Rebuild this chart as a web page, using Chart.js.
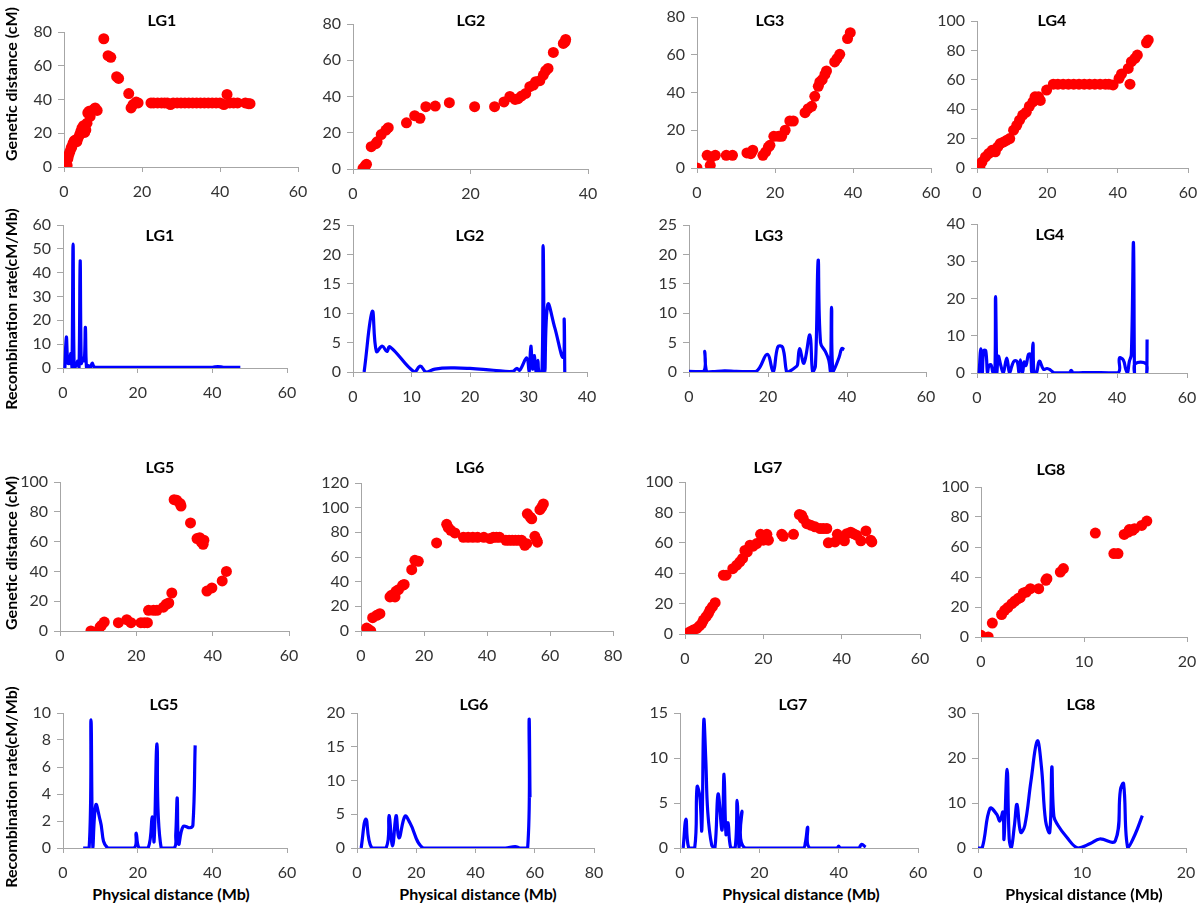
<!DOCTYPE html>
<html>
<head>
<meta charset="utf-8">
<script src="https://cdn.jsdelivr.net/npm/chart.js@4.4.1/dist/chart.umd.min.js"></script>
<style>
    body { margin: 0; background: #fff; }
    #fig { position: relative; width: 1200px; height: 908px; overflow: hidden; font-family: Lato, "Open Sans", sans-serif; }
    #fig canvas { position: absolute; }
    .lg { position: absolute; font-weight: bold; font-size: 16px; color: #000; transform: translate(-50%, -50%); white-space: nowrap; }
    .ytitle { position: absolute; font-weight: bold; font-size: 16px; color: #000; transform: translate(-50%, -50%) rotate(-90deg); white-space: nowrap; }
</style>
</head>
<body>
<div id="fig"></div>
<script>
// Genetic map position (cM) against physical position (Mb)
const lg1MapX = [0.3,0.5,0.6,0.8,1.0,1.2,1.5,1.8,2.0,2.3,2.6,3.0,3.3,3.6,4.0,4.3,4.6,5.0,5.3,5.6,5.9,6.1,6.4,6.7,7.0,7.5,8.0,8.5,10.2,11.3,12.0,13.5,14.0,16.6,17.2,17.7,18.5,19.0,22.3,23.0,24.0,25.0,25.8,26.5,27.3,28.0,29.0,30.0,31.0,32.0,33.0,34.0,35.0,36.0,37.0,38.0,39.0,40.0,41.0,41.8,42.5,43.5,44.5,46.5,47.3,47.7];
const lg1MapY = [0.5,3,6,1,5,7,9,11,12,14,15.5,16,15,17,19,21,23,24.5,20.5,22,26,32,33,30,33,34,35,33.5,76,66,65,53.5,52.5,43.5,35,37,38.5,38,38,38,38,38,38,38,37,38,38,38,38,38,38,38,38,38,38,38,38,38,37,43,38,38,38,38,37.5,37.5];
const lg2MapX = [1.7,2.1,2.3,3.1,3.9,4.1,4.8,5.6,6.0,9.1,10.5,11.4,12.4,14.0,16.4,20.7,24.1,25.7,26.7,27.6,28.1,28.7,29.4,30.1,30.7,31.1,31.8,32.4,32.8,33.2,34.1,35.8,36.1,36.2];
const lg2MapY = [0.4,1.8,2.6,12.3,14,15,19,21.5,22.8,25.5,29.4,28,34.4,34.7,36.6,34.4,34.4,37,40,38.4,38.8,40.3,41.7,45.4,46.3,48.2,48.7,51.8,54.2,55.5,64.3,69.3,70.2,71.5];
const lg3MapX = [0,2.6,3.4,3.7,4.7,7.5,9.1,12.8,13.8,14.3,16.9,17.6,18.3,18.7,19.7,20.9,21.7,22.6,23.8,24.7,27.7,28.5,29.4,30.2,31.1,31.5,32.1,32.8,33.2,35.3,35.9,36.6,38.6,39.3];
const lg3MapY = [0,6.7,1.4,5.8,6.7,6.7,6.7,8,7.6,9.4,6.7,8.5,11.1,12,16.8,16.8,16.8,20,24.9,24.9,29.3,31.4,32.7,38,43.3,45.6,46.8,49.6,51.4,56.2,58,60.2,68.6,71.7];
const lg4MapX = [0.8,1.4,2.4,3.3,4.3,5.2,5.9,6.6,7.6,8.5,9.3,10.4,11.3,12.1,13,14,14.9,15.9,16.5,17.5,18,19.8,21.7,23,24.5,26,27.5,29,30.5,32,33.5,35,36.5,37.5,38.7,40.4,41.1,43.5,43,43.9,44.9,45.6,48.2,48.7];
const lg4MapY = [0.7,4,7.5,9.8,12,11,14.3,16.6,17.7,18.9,20,25.7,29,32.5,36,38,42,45,48.4,48.4,46,53,57,57,57,57,57,57,57,57,57,57,57,57,56.5,61,64,57,67.7,72.3,74.5,76.8,85.2,87];
const lg5MapX = [8.1,10.1,10.5,10.9,11.6,15.3,17.5,18.6,21.2,22.1,22.9,23.2,24.5,25.4,27.1,27.8,28.5,29.3,29.9,30.6,31.5,31.7,34.2,35.9,36.6,37,37.5,37.7,38.5,39.8,42.5,43.6];
const lg5MapY = [0,0,2.7,3.8,6,5.6,7.6,5.6,5.6,5.6,5.6,13.9,13.9,13.9,16,17.9,18.8,25.5,88.1,87.7,85.5,83.9,72.5,62,62.6,59.7,58.2,60.9,26.8,28.9,33.6,40];
const lg6MapX = [1.8,2.5,3.1,3.7,5,6,9.2,9.7,10.8,11.1,11.9,13.2,13.7,16.1,17.1,18.2,24,27.2,27.7,28.5,29.8,32.5,34,35.5,37,39,41,42,43,44,46,47,48,49,50,51,52,52.6,52.8,53.7,54.2,55.2,55.8,56,56.8,57.4,57.9];
const lg6MapY = [2.4,1.1,0,10.8,12.7,14,27.6,29,27.6,32.2,33.5,37,37.8,49.7,57.3,56.5,71.4,86.5,83.8,81.6,79.5,76,76,76,76,76,75,76,76,76,73.5,73.5,73.5,73.5,73.5,73.5,69.5,70.8,95,92.4,91,76.8,73.5,72,98.4,100.5,103];
const lg7MapX = [0.6,1.3,2.1,3,3.7,4.3,4.7,5.4,6,6.4,7,7.7,9.8,10.5,12.2,13.2,14,14.7,15.3,15.9,16.6,17.4,18.3,19.3,20,20.9,21.3,24.7,25.1,27.7,29.2,29.8,30.2,31.1,32.1,33.2,34.5,35.3,36.2,36.6,38.3,38.9,39.6,40.7,41.3,42.3,43,43.8,44.9,46.2,47.4,47.7];
const lg7MapY = [0.4,1.5,2.6,3.7,5.3,7,9.2,11.4,13.6,15.8,18,20.6,38.7,38.7,43,45.3,47.5,49.7,55,54,58.4,57.8,59.5,65.6,61.7,65.6,61.7,65.6,64.3,65.6,78.6,78.1,75.9,72.6,71.6,70.5,69.4,69.4,69.4,60,60.6,65.6,63.5,61.3,66,67,66,65,61.3,67.8,61.7,60.6];
const lg8MapX = [0,0.7,1.1,2,2.3,2.6,3,3.3,3.6,3.8,4.1,4.4,4.8,5.6,6.3,6.4,7.7,8,11.1,12.9,13.3,13.9,14.3,14.4,14.7,14.9,15.6,16.1];
const lg8MapY = [1.1,0,9.3,15,17.8,19.6,22.2,24,25.6,26.2,29.3,30,32.2,32.2,37.8,38.9,43.3,45.6,69.3,55.6,55.6,68.4,70,71.6,71.1,72.2,74.4,77.3];

// Recombination rate (cM/Mb) along physical position (Mb)
const lg1RateX = [0.5,0.9,1.3,1.7,2.1,2.4,2.7,3.0,3.5,4.0,4.3,4.6,4.9,5.3,5.7,6.0,6.3,6.8,7.3,7.8,8.3,9,10,15,20,25,30,35,40,41.5,43,47.5];
const lg1RateY = [0,13,2,2,6,0,52,0,1,3,0,45,2,4,3,17,0,1,0,2,0.5,0.3,0.3,0.3,0.3,0.3,0.3,0.3,0.3,0.6,0.3,0.3];
const lg2RateX = [1.9,3.3,4.0,5.0,5.8,6.3,10.5,11.5,12.5,14,17,20,24,27.3,28,28.5,29.7,30.1,30.4,30.7,31.0,31.3,31.6,31.8,32.3,32.5,32.8,33.3,34.5,35.9,36.1,36.2];
const lg2RateY = [0,10.3,3.5,4.4,3.5,4.3,0,1,0,0.5,0.7,0.6,0.3,0.1,0.6,0.3,2.4,0,4.4,0.5,2.8,0,2,0,0,21.5,0,11.5,7.5,2.5,9,0];
const lg3RateX = [0,3.7,4.0,4.5,6,9,12,17,19.8,21.3,22.5,23.7,24.7,25.2,27.3,27.5,28.0,29.1,30.6,31.3,32.0,32.7,33.3,34.5,35.4,35.8,36.1,36.5,38.0,38.7,39.3];
const lg3RateY = [0.1,0.1,3.5,0,0.05,0.2,0.1,0.1,3,0,4.3,4.2,0,0,1,1.3,4,1.5,6.3,0,1,19,5,3.5,2,0,11,0,2.5,4,3.8];
const lg4RateX = [0.6,1.1,1.5,1.9,2.5,3.0,3.4,4.0,4.6,5.1,5.3,5.7,6.1,6.8,7.5,8.5,9.3,10,10.7,11.5,12,12.4,13,13.5,14,14.7,15.3,15.6,16,16.3,17,17.8,19,20,21,22,26.4,26.9,27.5,32,40.3,40.7,41.8,42.5,43,43.5,44.1,44.7,45,45.2,48.3,48.5,48.6];
const lg4RateY = [0,6.5,0,6,6,0,2,2.2,0,0,20.5,0,4.5,2,0,4,0,2,3.3,3,0,3.5,0,3,2,5,5,0,8,0,0,3.2,1,1.2,0.8,0.1,0.1,0.7,0.1,0.1,0.1,4,3.5,1,0,3,5,35,0,2.5,2.5,0,9];
const lg5RateX = [5.4,7.0,7.5,8.0,8.8,10.0,12.0,19.0,19.6,20.4,22.8,23.9,24.4,25.2,26.3,29.8,30.2,30.6,31.0,32.2,34.0,34.8,35.4];
const lg5RateY = [0,0,9.5,0,3.2,2,0,0,1.1,0,0,2.3,0.5,7.7,0,0,1,3.7,0.3,1.6,1.5,1.7,7.6];
const lg6RateX = [1.4,3.0,5.0,9.8,10.8,12.0,13.2,14.2,16.2,17.9,22.3,30,40,50,53.4,55,57.6,58.1,58.4];
const lg6RateY = [0,4.3,0,0,4.8,0.3,4.8,1.5,4.7,3.7,0,0,0,0,0.2,0,0,19,7.5];
const lg7RateX = [0.8,1.5,2.2,3.7,4.3,5.0,5.5,6.0,6.5,7.0,8.0,8.8,9.6,10.6,11.1,11.6,12.1,12.8,13.9,14.4,14.9,15.6,16.4,31.0,31.6,32.2,32.7,39.6,40.0,40.4,45.0,45.8,46.8];
const lg7RateY = [0,3.2,0,0,6.8,5.7,2,14.2,9.8,4,0.3,0,6,2,8.2,1.5,2.8,0,0,5.3,0,4.1,0,0,0.6,2.3,0,0,0.2,0,0,0.4,0.1];
const lg8RateX = [0,0.4,1.15,1.8,2.1,2.4,2.5,2.8,3.0,3.2,3.5,3.75,4.1,4.5,5.1,5.7,6.1,6.5,6.9,7.1,7.3,7.7,8.5,9.6,10.8,11.7,13.2,13.7,14.0,14.4,15.1,15.8];
const lg8RateY = [0,0,8.8,7.5,6,8,2,17.5,2,0,5,9.7,3.5,5,15,23.8,18,6,3.5,18,7,5,2.5,0,1,2,1.6,13,14.3,0,3,7.2];

// axis ranges per panel
const mapXMax = [60, 40, 60, 60, 60, 80, 60, 20];
const mapYMax = [80, 80, 80, 100, 100, 120, 100, 100];
const rateXMax = [60, 40, 60, 60, 60, 80, 60, 20];
const rateYMax = [60, 25, 25, 40, 10, 20, 15, 30];
const rateYStep = [10, 5, 5, 10, 2, 5, 5, 10];

const fig = document.getElementById('fig');
const YW = 50, XH = 34, PT = 12, PR = 16;
const axisGray = '#a6a6a6';
const tickFont = { family: 'Lato, "Open Sans", sans-serif', size: 16 };

function zip(xs, ys) {
    return xs.map((x, i) => ({ x: x, y: ys[i] }));
}

function addText(cls, text, x, y) {
    const d = document.createElement('div');
    d.className = cls;
    d.textContent = text;
    d.style.left = x + 'px';
    d.style.top = y + 'px';
    fig.appendChild(d);
}

function addPanel(p) {
    const [l, r, t, b] = p.box;
    const w = r - l + YW + PR, h = b - t + PT + XH;
    const c = document.createElement('canvas');
    c.width = w; c.height = h;
    c.style.left = (l - YW) + 'px';
    c.style.top = (t - PT) + 'px';
    c.style.width = w + 'px';
    c.style.height = h + 'px';
    fig.appendChild(c);

    const ds = p.line ? {
        data: zip(p.xs, p.ys),
        borderColor: '#0000ff',
        borderWidth: 3.2,
        pointRadius: 0,
        tension: 0.4,
        fill: false,
    } : {
        data: zip(p.xs, p.ys),
        backgroundColor: '#ff0000',
        borderWidth: 0,
        pointRadius: 5.5,
    };

    new Chart(c, {
        type: p.line ? 'line' : 'scatter',
        data: { datasets: [ds] },
        options: {
            responsive: false,
            animation: false,
            layout: { padding: { top: PT, right: PR, left: 0, bottom: 0 } },
            plugins: { legend: { display: false }, tooltip: { enabled: false } },
            scales: {
                x: {
                    type: 'linear',
                    min: 0,
                    max: p.xMax,
                    ticks: { stepSize: p.xStep, color: '#333', font: tickFont, padding: 10 },
                    grid: { drawOnChartArea: false, drawTicks: true, tickLength: 5, color: axisGray },
                    border: { color: axisGray, width: 1 },
                    afterFit: (s) => { s.height = XH; s.paddingLeft = 0; s.paddingRight = 0; },
                },
                y: {
                    min: 0,
                    max: p.yMax,
                    ticks: { stepSize: p.yStep, color: '#333', font: tickFont, padding: 6 },
                    grid: { drawOnChartArea: false, drawTicks: true, tickLength: 6, color: axisGray },
                    border: { color: axisGray, width: 1 },
                    afterFit: (s) => { s.width = YW; s.paddingTop = 0; s.paddingBottom = 0; },
                },
            },
        },
    });
    addText('lg', p.title, p.tx, p.ty);
}

const panels = [
    { xs: lg1MapX, ys: lg1MapY, xMax: mapXMax[0], xStep: 20, yMax: mapYMax[0], yStep: 20, box: [64, 298, 32, 167], title: 'LG1', tx: 162, ty: 19 },
    { xs: lg2MapX, ys: lg2MapY, xMax: mapXMax[1], xStep: 20, yMax: mapYMax[1], yStep: 20, box: [353, 588, 24, 169], title: 'LG2', tx: 471, ty: 19 },
    { xs: lg3MapX, ys: lg3MapY, xMax: mapXMax[2], xStep: 20, yMax: mapYMax[2], yStep: 20, box: [697, 931, 17, 168], title: 'LG3', tx: 770, ty: 19 },
    { xs: lg4MapX, ys: lg4MapY, xMax: mapXMax[3], xStep: 20, yMax: mapYMax[3], yStep: 20, box: [977, 1188, 21, 168], title: 'LG4', tx: 1052, ty: 19 },
    { line: true, xs: lg1RateX, ys: lg1RateY, xMax: rateXMax[0], xStep: 20, yMax: rateYMax[0], yStep: rateYStep[0], box: [63, 287, 225, 368], title: 'LG1', tx: 160, ty: 234 },
    { line: true, xs: lg2RateX, ys: lg2RateY, xMax: rateXMax[1], xStep: 10, yMax: rateYMax[1], yStep: rateYStep[1], box: [353, 587, 225, 372], title: 'LG2', tx: 470, ty: 234 },
    { line: true, xs: lg3RateX, ys: lg3RateY, xMax: rateXMax[2], xStep: 20, yMax: rateYMax[2], yStep: rateYStep[2], box: [689, 926, 225, 372], title: 'LG3', tx: 769, ty: 234 },
    { line: true, xs: lg4RateX, ys: lg4RateY, xMax: rateXMax[3], xStep: 20, yMax: rateYMax[3], yStep: rateYStep[3], box: [977, 1187, 224, 373], title: 'LG4', tx: 1050, ty: 233 },
    { xs: lg5MapX, ys: lg5MapY, xMax: mapXMax[4], xStep: 20, yMax: mapYMax[4], yStep: 20, box: [60, 289, 482, 631], title: 'LG5', tx: 160, ty: 466 },
    { xs: lg6MapX, ys: lg6MapY, xMax: mapXMax[5], xStep: 20, yMax: mapYMax[5], yStep: 20, box: [361, 613, 483, 631], title: 'LG6', tx: 470, ty: 466 },
    { xs: lg7MapX, ys: lg7MapY, xMax: mapXMax[6], xStep: 20, yMax: mapYMax[6], yStep: 20, box: [685, 920, 482, 634], title: 'LG7', tx: 768, ty: 466 },
    { xs: lg8MapX, ys: lg8MapY, xMax: mapXMax[7], xStep: 10, yMax: mapYMax[7], yStep: 20, box: [981, 1187, 487, 637], title: 'LG8', tx: 1051, ty: 468 },
    { line: true, xs: lg5RateX, ys: lg5RateY, xMax: rateXMax[4], xStep: 20, yMax: rateYMax[4], yStep: rateYStep[4], box: [63, 287, 713, 848], title: 'LG5', tx: 164, ty: 703 },
    { line: true, xs: lg6RateX, ys: lg6RateY, xMax: rateXMax[5], xStep: 20, yMax: rateYMax[5], yStep: rateYStep[5], box: [357, 594, 713, 848], title: 'LG6', tx: 474, ty: 703 },
    { line: true, xs: lg7RateX, ys: lg7RateY, xMax: rateXMax[6], xStep: 20, yMax: rateYMax[6], yStep: rateYStep[6], box: [680, 918, 713, 848], title: 'LG7', tx: 793, ty: 703 },
    { line: true, xs: lg8RateX, ys: lg8RateY, xMax: rateXMax[7], xStep: 10, yMax: rateYMax[7], yStep: rateYStep[7], box: [978, 1186, 713, 848], title: 'LG8', tx: 1081, ty: 703 },
];

panels.forEach(addPanel);

// shared axis titles
addText('ytitle', 'Genetic distance (cM)', 10, 84);
addText('ytitle', 'Recombination rate(cM/Mb)', 10, 309);
addText('ytitle', 'Genetic distance (cM)', 10, 553);
addText('ytitle', 'Recombination rate(cM/Mb)', 10, 787);
[171, 478, 801, 1084].forEach((x) => addText('lg', 'Physical distance (Mb)', x, 893));
</script>
</body>
</html>
